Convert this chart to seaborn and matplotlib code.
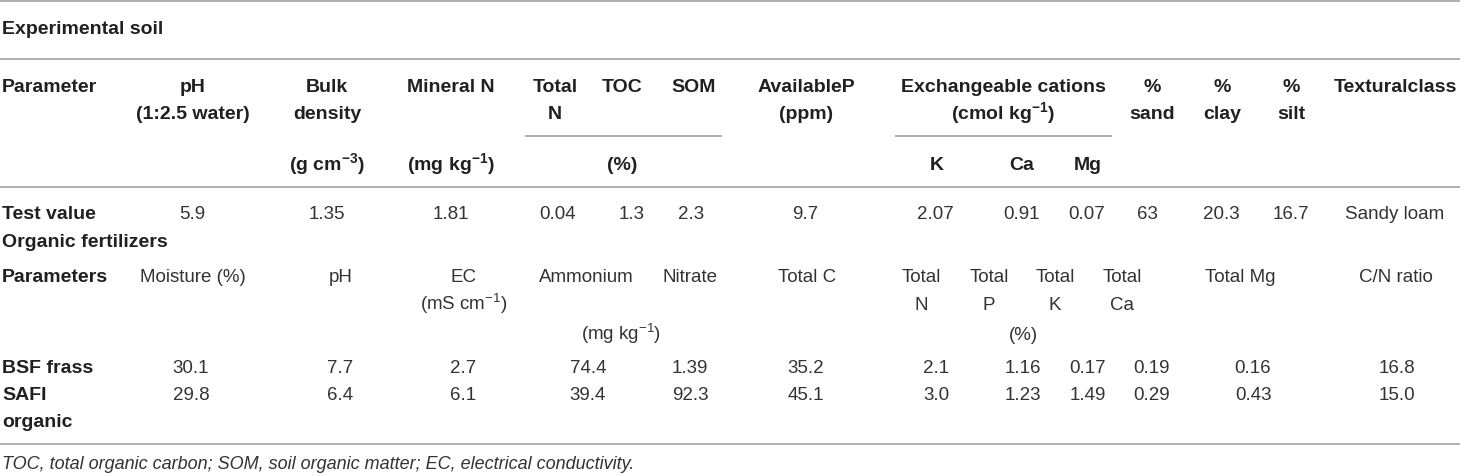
import matplotlib
matplotlib.use("Agg")
import matplotlib.pyplot as plt
import seaborn as sns

# ---- data ----
section_soil = "Experimental soil"
section_fert = "Organic fertilizers"

soil_row_label = "Parameter"
soil_head1 = ["pH", "Bulk", "Mineral N", "Total", "TOC", "SOM", "AvailableP",
              "Exchangeable cations", "%", "%", "%", "Texturalclass"]
soil_head2 = ["(1:2.5 water)", "density", "", "N", "", "", "(ppm)",
              r"(cmol kg$^{\mathbf{-1}}$)", "sand", "clay", "silt", ""]
soil_units = [r"(g cm$^{\mathbf{-3}}$)", r"(mg kg$^{\mathbf{-1}}$)", "(%)", "K", "Ca", "Mg"]

test_label = "Test value"
test_values = ["5.9", "1.35", "1.81", "0.04", "1.3", "2.3", "9.7",
               "2.07", "0.91", "0.07", "63", "20.3", "16.7", "Sandy loam"]

fert_row_label = "Parameters"
fert_head1 = ["Moisture (%)", "pH", "EC", "Ammonium", "Nitrate", "Total C",
              "Total", "Total", "Total", "Total", "Total Mg", "C/N ratio"]
fert_head2 = ["", "", r"(mS cm$^{-1}$)", "", "", "", "N", "P", "K", "Ca", "", ""]
fert_units = [r"(mg kg$^{-1}$)", "(%)"]

fert_labels = ["BSF frass", "SAFI\norganic"]
bsf_values = ["30.1", "7.7", "2.7", "74.4", "1.39", "35.2", "2.1", "1.16", "0.17", "0.19", "0.16", "16.8"]
safi_values = ["29.8", "6.4", "6.1", "39.4", "92.3", "45.1", "3.0", "1.23", "1.49", "0.29", "0.43", "15.0"]

footnote = "TOC, total organic carbon; SOM, soil organic matter; EC, electrical conductivity."

# ---- layout (pixel positions) ----
W, H = 1460, 476
soil_head_x = [193, 327, 451, 555, 622, 694, 806, 1003, 1152, 1222, 1291, 1395]
soil_unit_x = [327, 451, 622, 937, 1022, 1088]
soil_val_x = [192, 327, 451, 558, 632, 691, 805, 935, 1021, 1087, 1147, 1221, 1291, 1395]
fert_head_x = [193, 341, 464, 586, 690, 807, 921, 989, 1055, 1122, 1240, 1396]
fert_unit_x = [621, 1023]
fert_val_x = [191, 340, 463, 588, 690, 806, 936, 1023, 1088, 1152, 1253, 1397]

sns.set_theme(style="white")
plt.rcParams['font.family'] = ['Liberation Sans', 'DejaVu Sans']
plt.rcParams['mathtext.fontset'] = 'custom'
plt.rcParams['mathtext.rm'] = 'Liberation Sans'
plt.rcParams['mathtext.it'] = 'Liberation Sans:italic'
plt.rcParams['mathtext.bf'] = 'Liberation Sans:bold'

fig = plt.figure(figsize=(W / 100, H / 100), dpi=100)
ax = fig.add_axes([0, 0, 1, 1])
ax.set_xlim(0, W)
ax.set_ylim(H, 0)
ax.axis('off')

BOLD = dict(fontsize=14, fontweight='bold', color='#231f20')
REG = dict(fontsize=13.5, color='#333333')
DY = 7  # offset from visual centre to baseline


def put(x, y, s, ha='center', **kw):
    if s:
        ax.text(x, y + DY, s, ha=ha, va='baseline', **kw)


# rules
line_kw = dict(color='#a3a3a3', linewidth=1.2)
ax.hlines([1, 59, 187, 444], 0, W, **line_kw)
ax.hlines(136, 525, 722, **line_kw)
ax.hlines(136, 895, 1112, **line_kw)

# soil section
put(2, 27, section_soil, ha='left', **BOLD)
put(2, 85, soil_row_label, ha='left', **BOLD)
for x, s1, s2 in zip(soil_head_x, soil_head1, soil_head2):
    put(x, 85, s1, **BOLD)
    put(x, 112, s2, **BOLD)
for x, s in zip(soil_unit_x, soil_units):
    put(x, 163, s, **BOLD)
put(2, 212, test_label, ha='left', **BOLD)
for x, s in zip(soil_val_x, test_values):
    put(x, 212, s, **REG)

# fertilizer section
put(2, 240, section_fert, ha='left', **BOLD)
put(2, 275, fert_row_label, ha='left', **BOLD)
for x, s1, s2 in zip(fert_head_x, fert_head1, fert_head2):
    put(x, 275, s1, **REG)
    put(x, 303, s2, **REG)
for x, s in zip(fert_unit_x, fert_units):
    put(x, 333, s, **REG)

put(2, 366, fert_labels[0], ha='left', **BOLD)
for i, part in enumerate(fert_labels[1].split("\n")):
    put(2, 393 + 27 * i, part, ha='left', **BOLD)
for x, a, b in zip(fert_val_x, bsf_values, safi_values):
    put(x, 366, a, **REG)
    put(x, 393, b, **REG)

put(2, 462, footnote, ha='left', fontsize=13, fontstyle='italic', color='#333333')

fig.savefig("out.png", dpi=100)
